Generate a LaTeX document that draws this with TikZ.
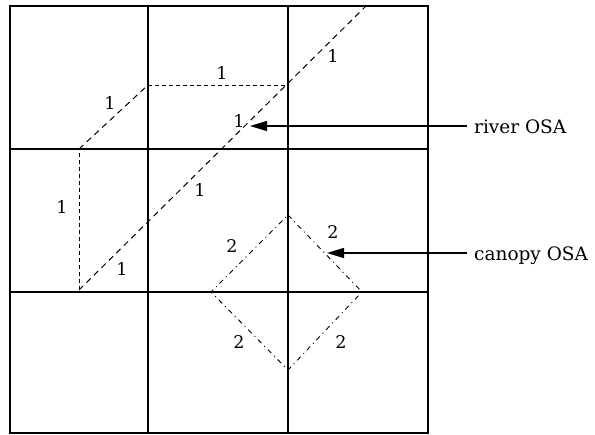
\documentclass[tikz,border=0pt]{standalone}
\usepackage{fontspec}
\setmainfont{DejaVu Serif}
\usetikzlibrary{arrows.meta}
\tikzset{
  gridline/.style={line width=1.6pt, line cap=rect},
  riverlong/.style={line width=1pt, dash pattern=on 6pt off 4.5pt},
  rivershort/.style={line width=0.9pt, dash pattern=on 4pt off 3pt},
  canopyline/.style={line width=0.9pt, dash pattern=on 5pt off 4pt on 1pt off 4pt},
  num/.style={inner sep=0pt, font=\fontsize{17.5}{20}\selectfont},
  lab/.style={inner sep=0pt, anchor=base west, font=\fontsize{18.5}{21}\selectfont},
  arr/.style={line width=1.4pt, -{Triangle[length=17pt,width=10pt]}}
}
\begin{document}
\begin{tikzpicture}[x=1pt,y=-1pt]
\useasboundingbox (0,0) rectangle (595,435);
% grid
\draw[gridline] (10,6) rectangle (428,433);
\draw[gridline] (148,6) -- (148,433);
\draw[gridline] (288,6) -- (288,433);
\draw[gridline] (10,149) -- (428,149);
\draw[gridline] (10,292) -- (428,292);
% river OSA (1)
\coordinate (r1) at (79,290);
\coordinate (r2) at (79,149);
\coordinate (r3) at (148,85);
\coordinate (r4) at (288,85);
\coordinate (r5) at (366,6);
\draw[rivershort] (r1) -- (r2);
\draw[riverlong] (r2) -- (r3);
\draw[rivershort] (r3) -- (r4);
\draw[riverlong] (r1) -- (r5);
\node[num] (n1a) at (222,73) {1};
\node[num] (n1b) at (110,103) {1};
\node[num] (n1c) at (333,56) {1};
\node[num] (n1d) at (239,121) {1};
\node[num] (n1e) at (62,207) {1};
\node[num] (n1f) at (200,190) {1};
\node[num] (n1g) at (122,269) {1};
% canopy OSA (2)
\coordinate (c1) at (288,215);
\coordinate (c2) at (362,292);
\coordinate (c3) at (288,370);
\coordinate (c4) at (211,292);
\draw[canopyline] (c1) -- (c2) -- (c3) -- (c4) -- cycle;
\node[num] (n2a) at (232,246) {2};
\node[num] (n2b) at (333,232) {2};
\node[num] (n2c) at (239,342) {2};
\node[num] (n2d) at (341,342) {2};
% labels and arrows
\node[lab] (river) at (474,134) {river OSA};
\node[lab] (canopy) at (474,261) {canopy OSA};
\coordinate (rivtip) at (250,126);
\coordinate (cantip) at (327,253);
\draw[arr] ([xshift=-7pt,yshift=8pt]river.base west) -- (rivtip);
\draw[arr] ([xshift=-7pt,yshift=8pt]canopy.base west) -- (cantip);
\end{tikzpicture}
\end{document}
